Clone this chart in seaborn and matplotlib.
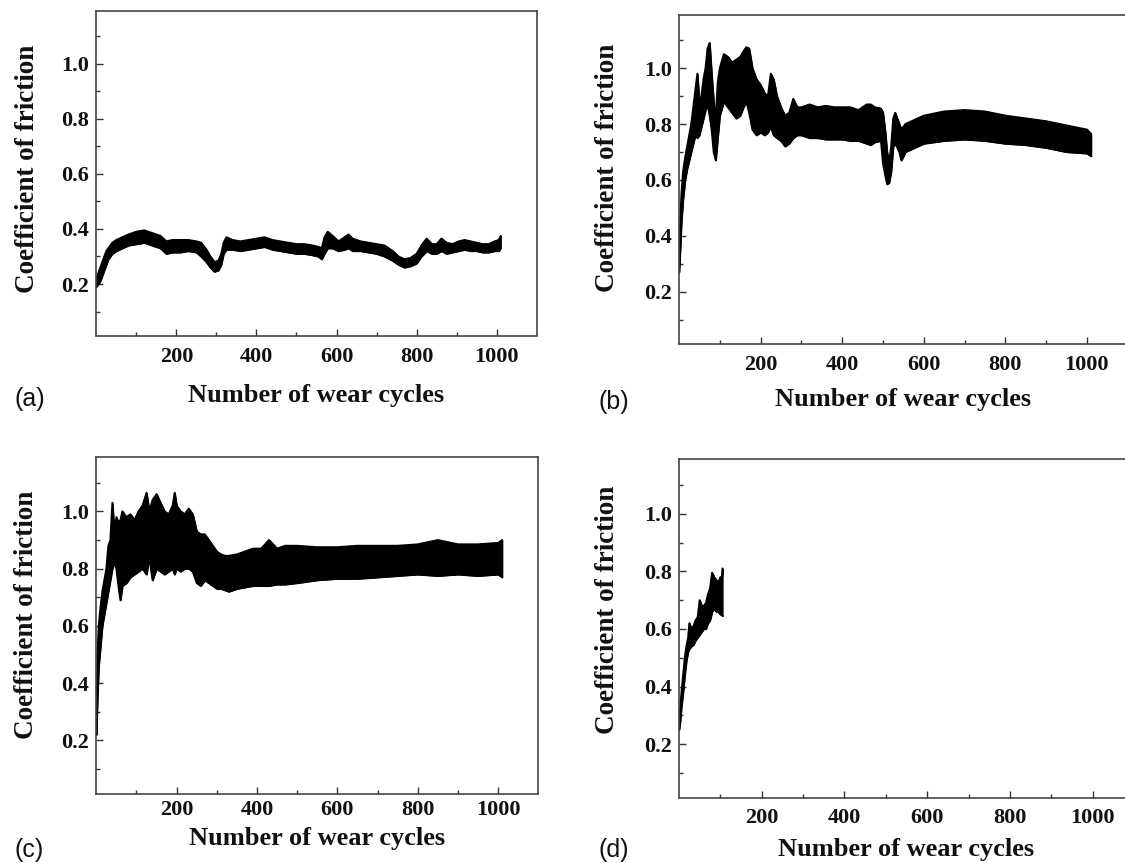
import matplotlib
matplotlib.use("Agg")
import matplotlib.pyplot as plt
import seaborn as sns
import pandas as pd

# ---------------- data ----------------
# panel (a): envelope of the noisy friction trace
x_a = [0, 5, 10, 15, 20, 25, 30, 40, 50, 65,
       80, 100, 120, 140, 160, 175, 190, 210, 230, 250,
       262, 275, 285, 295, 305, 312, 318, 325, 340, 360,
       380, 400, 420, 440, 460, 480, 500, 520, 540, 555,
       563, 570, 578, 590, 605, 620, 630, 640, 660, 680,
       700, 720, 740, 755, 770, 785, 800, 812, 825, 838,
       850, 862, 875, 890, 905, 920, 935, 950, 965, 980,
       995, 1005, 1010]
lo_a = [0.19, 0.20, 0.21, 0.23, 0.25, 0.27, 0.29, 0.31, 0.32, 0.33,
        0.34, 0.345, 0.35, 0.34, 0.33, 0.31, 0.315, 0.315, 0.32, 0.315,
        0.30, 0.28, 0.26, 0.245, 0.25, 0.27, 0.31, 0.325, 0.325, 0.32,
        0.325, 0.33, 0.335, 0.325, 0.32, 0.315, 0.31, 0.31, 0.305, 0.30,
        0.29, 0.31, 0.33, 0.33, 0.32, 0.325, 0.33, 0.32, 0.32, 0.315,
        0.31, 0.30, 0.285, 0.27, 0.26, 0.265, 0.275, 0.30, 0.32, 0.31,
        0.31, 0.32, 0.31, 0.315, 0.32, 0.325, 0.32, 0.32, 0.315, 0.315,
        0.32, 0.32, 0.33]
hi_a = [0.22, 0.24, 0.26, 0.28, 0.30, 0.32, 0.33, 0.35, 0.36, 0.37,
        0.38, 0.39, 0.395, 0.385, 0.375, 0.355, 0.36, 0.36, 0.36, 0.355,
        0.35, 0.325, 0.30, 0.28, 0.285, 0.31, 0.35, 0.37, 0.36, 0.355,
        0.36, 0.365, 0.37, 0.36, 0.355, 0.35, 0.345, 0.345, 0.34, 0.335,
        0.33, 0.37, 0.39, 0.375, 0.355, 0.37, 0.38, 0.365, 0.355, 0.35,
        0.345, 0.34, 0.32, 0.30, 0.29, 0.295, 0.31, 0.34, 0.365, 0.345,
        0.345, 0.365, 0.35, 0.345, 0.355, 0.36, 0.355, 0.35, 0.345, 0.345,
        0.355, 0.36, 0.375]

# panel (b)
x_b = [0, 3, 6, 10, 15, 20, 25, 30, 35, 40,
       45, 50, 55, 60, 65, 70, 75, 80, 85, 90,
       95, 100, 110, 120, 130, 140, 150, 158, 165, 172,
       180, 190, 200, 210, 218, 225, 232, 240, 250, 260,
       270, 280, 290, 300, 320, 340, 360, 380, 400, 420,
       440, 460, 470, 480, 495, 500, 505, 510, 515, 520,
       525, 530, 540, 545, 555, 570, 600, 650, 700, 750,
       800, 850, 900, 950, 1000, 1010]
lo_b = [0.27, 0.35, 0.45, 0.53, 0.60, 0.64, 0.67, 0.70, 0.73, 0.76,
        0.75, 0.76, 0.79, 0.82, 0.85, 0.87, 0.83, 0.78, 0.70, 0.67,
        0.75, 0.83, 0.88, 0.86, 0.84, 0.82, 0.83, 0.86, 0.88, 0.84,
        0.78, 0.76, 0.77, 0.76, 0.77, 0.79, 0.76, 0.75, 0.74, 0.72,
        0.73, 0.75, 0.76, 0.76, 0.75, 0.75, 0.745, 0.745, 0.745, 0.74,
        0.74, 0.73, 0.725, 0.735, 0.74, 0.66, 0.62, 0.585, 0.59, 0.63,
        0.72, 0.73, 0.70, 0.67, 0.70, 0.71, 0.73, 0.74, 0.745, 0.74,
        0.73, 0.725, 0.715, 0.70, 0.695, 0.685]
hi_b = [0.33, 0.45, 0.55, 0.63, 0.68, 0.72, 0.76, 0.80, 0.86, 0.92,
        0.98, 0.88, 0.90, 0.96, 1.00, 1.07, 1.09, 0.98, 0.88, 0.82,
        0.95, 1.00, 1.05, 1.04, 1.02, 1.03, 1.04, 1.06, 1.075, 1.07,
        1.00, 0.96, 0.94, 0.91, 0.90, 0.98, 0.96, 0.90, 0.86, 0.83,
        0.84, 0.89, 0.86, 0.86, 0.87, 0.86, 0.865, 0.86, 0.86, 0.86,
        0.85, 0.87, 0.87, 0.86, 0.855, 0.84, 0.78, 0.70, 0.66, 0.72,
        0.82, 0.84, 0.80, 0.78, 0.80, 0.81, 0.83, 0.845, 0.85, 0.845,
        0.83, 0.82, 0.81, 0.795, 0.78, 0.765]

# panel (c)
x_c = [0, 3, 6, 10, 15, 20, 25, 30, 35, 40,
       45, 50, 55, 60, 65, 75, 85, 95, 105, 115,
       125, 132, 140, 150, 160, 170, 180, 190, 195, 200,
       210, 220, 230, 240, 250, 260, 270, 280, 290, 300,
       310, 320, 330, 350, 370, 390, 410, 430, 450, 470,
       500, 550, 600, 650, 700, 750, 800, 850, 900, 950,
       1000, 1010]
lo_c = [0.22, 0.35, 0.46, 0.52, 0.60, 0.64, 0.68, 0.72, 0.76, 0.80,
        0.82, 0.80, 0.74, 0.69, 0.74, 0.75, 0.77, 0.78, 0.79, 0.80,
        0.78, 0.84, 0.76, 0.80, 0.79, 0.78, 0.79, 0.80, 0.78, 0.80,
        0.79, 0.80, 0.80, 0.79, 0.75, 0.74, 0.76, 0.75, 0.74, 0.73,
        0.73, 0.725, 0.72, 0.73, 0.735, 0.74, 0.74, 0.74, 0.745, 0.745,
        0.75, 0.76, 0.765, 0.765, 0.77, 0.775, 0.78, 0.775, 0.78, 0.775,
        0.78, 0.77]
hi_c = [0.30, 0.50, 0.60, 0.66, 0.72, 0.76, 0.80, 0.88, 0.90, 1.03,
        0.93, 0.98, 0.96, 0.97, 1.00, 0.98, 0.99, 0.97, 1.00, 1.02,
        1.065, 1.00, 1.04, 1.06, 1.03, 1.00, 0.99, 1.02, 1.065, 1.02,
        1.00, 0.99, 1.01, 0.99, 0.93, 0.92, 0.92, 0.90, 0.88, 0.86,
        0.85, 0.845, 0.845, 0.85, 0.86, 0.87, 0.87, 0.90, 0.87, 0.88,
        0.88, 0.875, 0.875, 0.88, 0.88, 0.88, 0.885, 0.90, 0.885, 0.885,
        0.89, 0.90]

# panel (d)
x_d = [0, 3, 6, 10, 14, 18, 22, 25, 30, 35,
       40, 45, 50, 55, 60, 65, 70, 75, 80, 85,
       90, 95, 100, 103, 105]
lo_d = [0.25, 0.28, 0.33, 0.38, 0.44, 0.49, 0.52, 0.53, 0.54, 0.545,
        0.56, 0.57, 0.58, 0.59, 0.60, 0.60, 0.62, 0.63, 0.66, 0.67,
        0.66, 0.66, 0.65, 0.65, 0.645]
hi_d = [0.30, 0.33, 0.38, 0.44, 0.50, 0.54, 0.57, 0.62, 0.60, 0.61,
        0.63, 0.64, 0.70, 0.68, 0.68, 0.69, 0.72, 0.74, 0.795, 0.78,
        0.77, 0.76, 0.78, 0.76, 0.81]

panel_letters = ["(a)", "(b)", "(c)", "(d)"]
x_major = [200, 400, 600, 800, 1000]
x_minor = [100, 300, 500, 700, 900]
y_major = [0.2, 0.4, 0.6, 0.8, 1.0]
y_minor = [0.1, 0.3, 0.5, 0.7, 0.9, 1.1]
y_labels = ["0.2", "0.4", "0.6", "0.8", "1.0"]
x_title = "Number of wear cycles"
y_title = "Coefficient of friction"

# ---------------- style ----------------
sns.set_theme(style="ticks")
plt.rcParams["font.family"] = ["Liberation Serif", "DejaVu Serif"]
plt.rcParams["font.weight"] = "bold"

W, H = 1125, 863
fig = plt.figure(figsize=(W / 100, H / 100), dpi=100)
fig.patch.set_facecolor("white")

# layout in pixels: left, top, bottom, width, xlabel baseline offset,
# x tick-label pad (pt), ylabel centre (x, y), letter position (x, y)
layout = [
    dict(l=96.3, t=11.5, b=335.5, w=440.4, xl=66, xp=8.0, yl=(27, 169), let=(15, 399)),
    dict(l=679.0, t=15.0, b=344.0, w=448.8, xl=62, xp=7.8, yl=(607, 168), let=(598, 402)),
    dict(l=96.3, t=457.0, b=794.0, w=442.0, xl=51, xp=4.5, yl=(27, 615), let=(15, 850)),
    dict(l=679.0, t=459.0, b=798.0, w=455.0, xl=58, xp=7.5, yl=(607, 610), let=(598, 850)),
]
series = [(x_a, lo_a, hi_a), (x_b, lo_b, hi_b), (x_c, lo_c, hi_c), (x_d, lo_d, hi_d)]

for (xs, lo, hi), lay, letter in zip(series, layout, panel_letters):
    h = lay["b"] - lay["t"]
    ax = fig.add_axes([lay["l"] / W, 1 - lay["b"] / H, lay["w"] / W, h / H])
    ax.set_facecolor("white")
    df = pd.DataFrame({"cycles": xs, "lo": lo, "hi": hi})
    ax.fill_between(df["cycles"], df["lo"], df["hi"], color="black", lw=1.0)
    sns.lineplot(data=df, x="cycles", y="lo", ax=ax, color="black", lw=1.4)
    sns.lineplot(data=df, x="cycles", y="hi", ax=ax, color="black", lw=1.4)

    ax.set_xlim(0, 1100)
    ax.set_ylim(0.013, 1.19)
    ax.set_xticks(x_major)
    ax.set_xticklabels([str(v) for v in x_major])
    ax.set_xticks(x_minor, minor=True)
    ax.set_yticks(y_major)
    ax.set_yticklabels(y_labels)
    ax.set_yticks(y_minor, minor=True)
    ax.tick_params(which="both", direction="in", top=False, right=False,
                   colors="#333333", labelcolor="#111111", width=1.0)
    ax.tick_params(which="major", length=5, labelsize=16)
    ax.tick_params(axis="y", which="major", pad=5)
    ax.tick_params(axis="x", which="major", pad=lay["xp"])
    ax.tick_params(which="minor", length=3)
    for lbl in ax.get_xticklabels() + ax.get_yticklabels():
        lbl.set_fontweight("bold")
    for sp in ax.spines.values():
        sp.set_visible(True)
        sp.set_color("#444444")
        sp.set_linewidth(1.2)

    ax.set_xlabel(x_title, fontsize=19, fontweight="bold", color="#111111",
                  va="baseline")
    ax.xaxis.set_label_coords(0.5, -lay["xl"] / h)
    ax.set_ylabel(y_title, fontsize=19.5, fontweight="bold", color="#111111",
                  va="center")
    ax.yaxis.set_label_coords((lay["yl"][0] - lay["l"]) / lay["w"],
                              (lay["b"] - lay["yl"][1]) / h)

    fig.text(lay["let"][0] / W, 1 - lay["let"][1] / H, letter,
             family=["Liberation Sans", "DejaVu Sans"], fontweight="normal",
             fontsize=18, ha="left", va="center", color="#111111")

fig.savefig("out.png", dpi=100, facecolor="white")
